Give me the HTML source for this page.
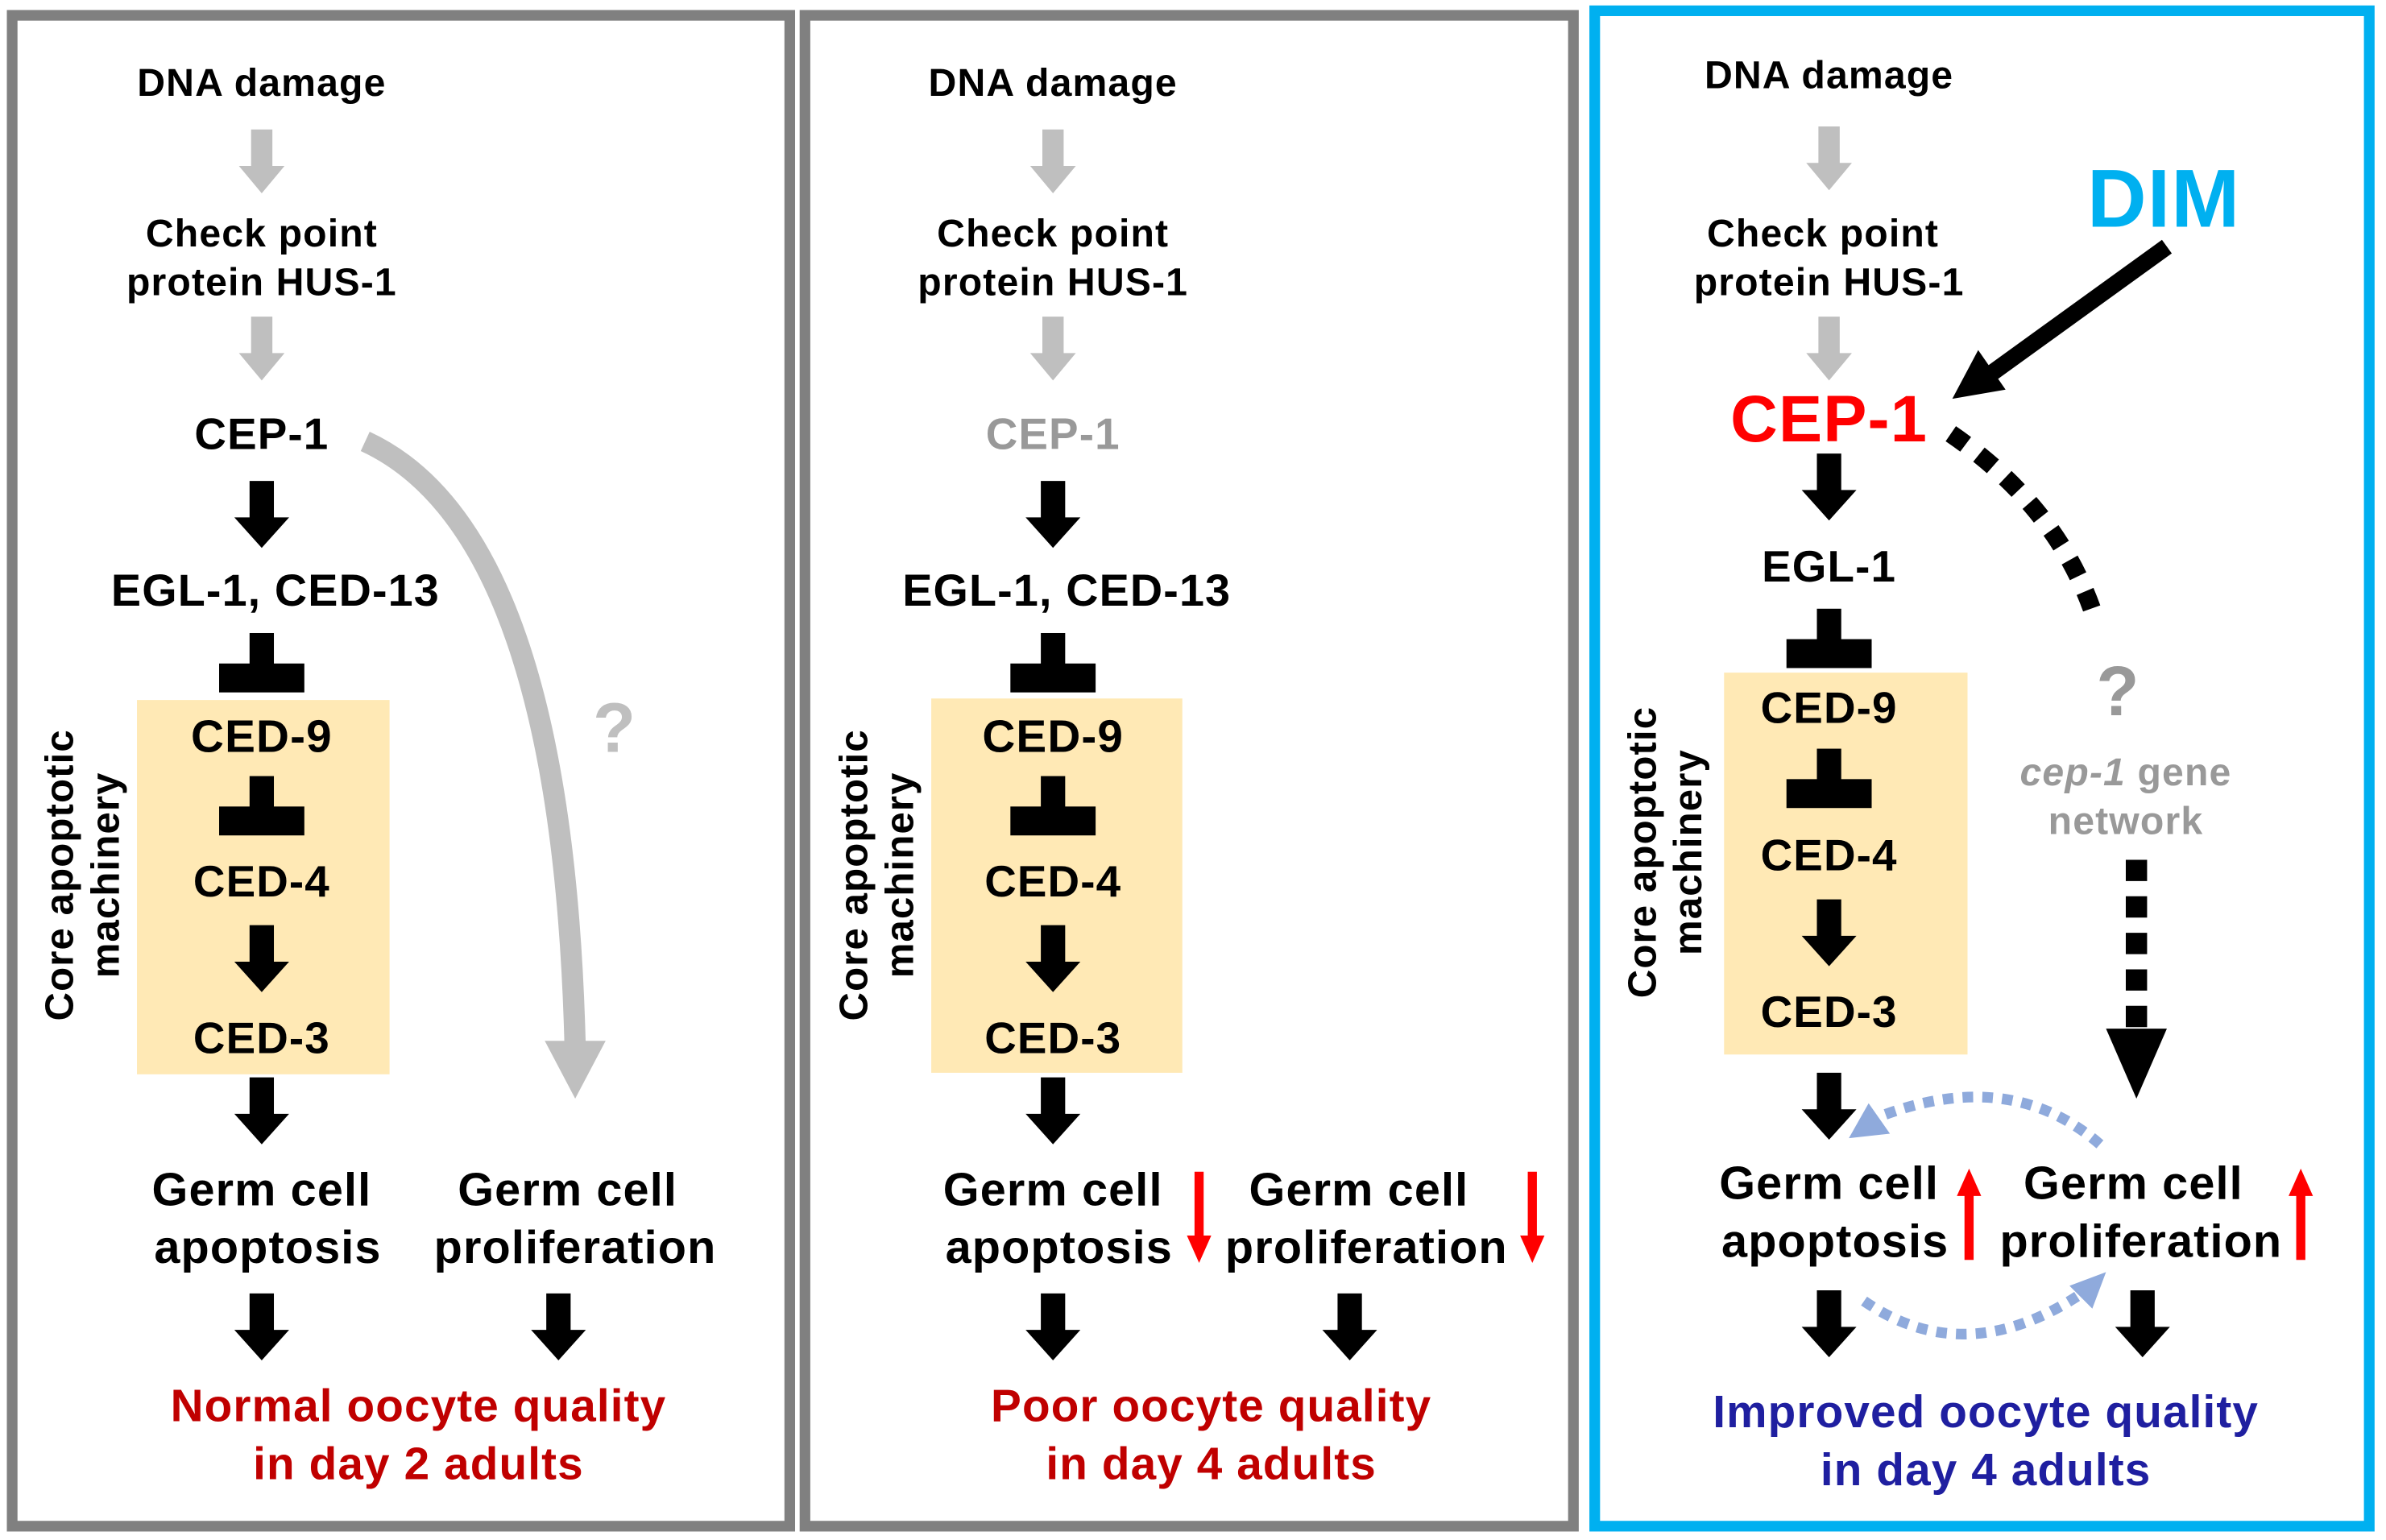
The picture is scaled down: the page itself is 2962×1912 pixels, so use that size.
<!DOCTYPE html>
<html><head><style>
html,body{margin:0;padding:0;background:#fff;}
svg{display:block;}
text{font-family:"Liberation Sans",Arial,sans-serif;font-weight:bold;text-anchor:middle;letter-spacing:0.6px;}
</style></head><body>
<svg width="2962" height="1912" viewBox="0 0 1568 1012" xmlns="http://www.w3.org/2000/svg">
<defs>
<polygon id="ga" points="-7,0 7,0 7,24 15,24 0,42 -15,24 -7,24" fill="#BFBFBF"/>
<polygon id="ba" points="-8,0 8,0 8,24 18,24 0,44 -18,24 -8,24" fill="#000"/>
<g id="tb"><rect x="-8" y="0" width="16" height="22" fill="#000"/><rect x="-28" y="20" width="56" height="19" fill="#000"/></g>
<polygon id="rd" points="-3,0 3,0 3,42 8,42 0,60 -8,42 -3,42" fill="#FF0000"/>
<polygon id="ru" points="-3,60 3,60 3,18 8,18 0,0 -8,18 -3,18" fill="#FF0000"/>
</defs>
<rect width="1568" height="1012" fill="#fff"/>
<rect x="8" y="10" width="511" height="993" fill="none" stroke="#808080" stroke-width="7"/>
<rect x="529" y="10" width="505" height="993" fill="none" stroke="#808080" stroke-width="7"/>
<rect x="1048" y="7" width="509" height="996" fill="none" stroke="#00B0F0" stroke-width="7"/>

<!-- PANEL 1 -->
<g>
<text x="172" y="63" font-size="25.5">DNA damage</text>
<use href="#ga" x="172" y="85"/>
<text x="172" y="162" font-size="25.5">Check point</text>
<text x="172" y="194" font-size="25.5">protein HUS-1</text>
<use href="#ga" x="172" y="208"/>
<text x="172" y="295" font-size="29">CEP-1</text>
<use href="#ba" x="172" y="316"/>
<text x="181" y="398" font-size="29.5">EGL-1, CED-13</text>
<use href="#tb" x="172" y="416"/>
<rect x="90" y="460" width="166" height="246" fill="#FFE9B5"/>
<text x="172" y="494" font-size="30">CED-9</text>
<use href="#tb" x="172" y="510"/>
<text x="172" y="589" font-size="29">CED-4</text>
<use href="#ba" x="172" y="608"/>
<text x="172" y="692" font-size="29">CED-3</text>
<use href="#ba" x="172" y="708"/>
<text x="172" y="792" font-size="30.5">Germ cell</text>
<text x="176" y="830" font-size="30.5">apoptosis</text>
<text x="373" y="792" font-size="30.5">Germ cell</text>
<text x="378" y="830" font-size="30.5">proliferation</text>
<use href="#ba" x="172" y="850"/>
<use href="#ba" x="367" y="850"/>
<text x="275" y="934" font-size="30" fill="#C00000">Normal oocyte quality</text>
<text x="275" y="972" font-size="30" fill="#C00000">in day 2 adults</text>
<text transform="translate(48,575) rotate(-90)" font-size="26">Core apoptotic</text>
<text transform="translate(78,575) rotate(-90)" font-size="26">machinery</text>
<path d="M240,290 Q370,350 378,690" fill="none" stroke="#BFBFBF" stroke-width="14"/>
<polygon points="358,684 398,684 378,722" fill="#BFBFBF"/>
<text x="404" y="494" font-size="46" fill="#BFBFBF">?</text>
</g>

<!-- PANEL 2 -->
<g transform="translate(520,0)">
<text x="172" y="63" font-size="25.5">DNA damage</text>
<use href="#ga" x="172" y="85"/>
<text x="172" y="162" font-size="25.5">Check point</text>
<text x="172" y="194" font-size="25.5">protein HUS-1</text>
<use href="#ga" x="172" y="208"/>
<text x="172" y="295" font-size="29" fill="#999">CEP-1</text>
<use href="#ba" x="172" y="316"/>
<text x="181" y="398" font-size="29.5">EGL-1, CED-13</text>
<use href="#tb" x="172" y="416"/>
<rect x="92" y="459" width="165" height="246" fill="#FFE9B5"/>
<text x="172" y="494" font-size="30">CED-9</text>
<use href="#tb" x="172" y="510"/>
<text x="172" y="589" font-size="29">CED-4</text>
<use href="#ba" x="172" y="608"/>
<text x="172" y="692" font-size="29">CED-3</text>
<use href="#ba" x="172" y="708"/>
<text x="172" y="792" font-size="30.5">Germ cell</text>
<text x="176" y="830" font-size="30.5">apoptosis</text>
<text x="373" y="792" font-size="30.5">Germ cell</text>
<text x="378" y="830" font-size="30.5">proliferation</text>
<use href="#rd" x="268" y="770"/>
<use href="#rd" x="487" y="770"/>
<use href="#ba" x="172" y="850"/>
<use href="#ba" x="367" y="850"/>
<text x="276" y="934" font-size="30" fill="#C00000">Poor oocyte quality</text>
<text x="276" y="972" font-size="30" fill="#C00000">in day 4 adults</text>
</g>
<text transform="translate(570,575) rotate(-90)" font-size="26">Core apoptotic</text>
<text transform="translate(600,575) rotate(-90)" font-size="26">machinery</text>

<!-- PANEL 3 -->
<g>
<text x="1202" y="58" font-size="25.5">DNA damage</text>
<use href="#ga" x="1202" y="83"/>
<text x="1198" y="162" font-size="25.5">Check point</text>
<text x="1202" y="194" font-size="25.5">protein HUS-1</text>
<use href="#ga" x="1202" y="208"/>
<text x="1202" y="290" font-size="43" fill="#FF0000">CEP-1</text>
<use href="#ba" x="1202" y="298"/>
<text x="1202" y="382" font-size="29">EGL-1</text>
<use href="#tb" x="1202" y="400"/>
<rect x="1133" y="442" width="160" height="251" fill="#FFE9B5"/>
<text x="1202" y="475" font-size="29">CED-9</text>
<use href="#tb" x="1202" y="492"/>
<text x="1202" y="572" font-size="29">CED-4</text>
<use href="#ba" x="1202" y="591"/>
<text x="1202" y="675" font-size="29">CED-3</text>
<use href="#ba" x="1202" y="705"/>
<text x="1202" y="788" font-size="30.5">Germ cell</text>
<text x="1206" y="826" font-size="30.5">apoptosis</text>
<text x="1402" y="788" font-size="30.5">Germ cell</text>
<text x="1407" y="826" font-size="30.5">proliferation</text>
<use href="#ru" x="1294" y="768"/>
<use href="#ru" x="1512" y="768"/>
<use href="#ba" x="1202" y="848"/>
<use href="#ba" x="1408" y="848"/>
<text x="1305" y="938" font-size="30" fill="#1F1FA0">Improved oocyte quality</text>
<text x="1305" y="976" font-size="30" fill="#1F1FA0">in day 4 adults</text>
<text transform="translate(1088,560) rotate(-90)" font-size="26">Core apoptotic</text>
<text transform="translate(1118,560) rotate(-90)" font-size="26">machinery</text>
<text x="1422" y="149" font-size="54" fill="#00B0F0">DIM</text>
<line x1="1424" y1="162" x2="1305" y2="248" stroke="#000" stroke-width="11"/>
<polygon points="1283,262 1300,230 1318,256" fill="#000"/>
<path d="M1282,285 Q1355,335 1378,410" fill="none" stroke="#000" stroke-width="12" stroke-dasharray="12,11"/>
<text x="1392" y="470" font-size="46" fill="#999">?</text>
<text x="1397" y="516" font-size="25.5" fill="#999"><tspan font-style="italic">cep-1</tspan> gene</text>
<text x="1397" y="548" font-size="25.5" fill="#999">network</text>
<line x1="1404" y1="565" x2="1404" y2="680" stroke="#000" stroke-width="14" stroke-dasharray="14,10"/>
<polygon points="1384,676 1424,676 1404,722" fill="#000"/>
<path d="M1380,752 Q1320,700 1232,735" fill="none" stroke="#8FAADC" stroke-width="7" stroke-dasharray="7,6"/>
<polygon points="1215,748 1228,725 1242,745" fill="#8FAADC"/>
<path d="M1225,855 Q1290,900 1365,852" fill="none" stroke="#8FAADC" stroke-width="7" stroke-dasharray="7,6"/>
<polygon points="1384,836 1360,845 1375,860" fill="#8FAADC"/>
</g>
</svg>
</body></html>
